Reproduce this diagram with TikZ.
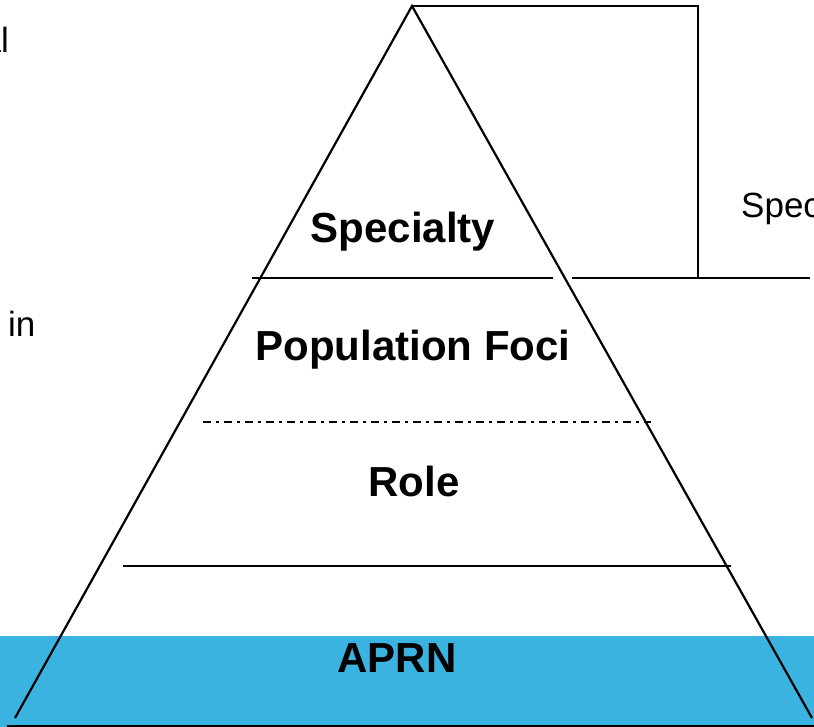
\documentclass[tikz,border=0pt]{standalone}
\usepackage{fontspec}
\setmainfont{Liberation Sans}
\definecolor{bandblue}{HTML}{3BB3E0}
\begin{document}
\begin{tikzpicture}[x=1pt,y=-1pt,
  ln/.style={draw=black,line width=2.2pt},
  dashdot/.style={draw=black,line width=2.2pt,dash pattern=on 8pt off 5pt on 3pt off 5pt},
  lbl/.style={font=\bfseries\fontsize{42}{45}\selectfont,anchor=base,inner sep=0pt},
  side/.style={font=\fontsize{35}{38}\selectfont,inner sep=0pt}]
\useasboundingbox (0,0) rectangle (814,727);
% blue band
\fill[bandblue] (0,636) rectangle (814,727);
% coordinates
\coordinate (apex) at (412,6);
\coordinate (bl) at (15,718);
\coordinate (br) at (812,718);
\coordinate (tr) at (698,6);
\coordinate (brk) at (698,278);
\coordinate (l1a) at (252,278);
\coordinate (l1b) at (553,278);
\coordinate (l2a) at (572,278);
\coordinate (l2b) at (810,278);
\coordinate (d1) at (203,422);
\coordinate (d2) at (651,422);
\coordinate (r1) at (123,566);
\coordinate (r2) at (731,566);
\coordinate (b1) at (7,726);
\coordinate (b2) at (814,726);
% triangle
\draw[ln] (bl) -- (apex) -- (br);
% bracket
\draw[ln] (apex) -- (tr) -- (brk);
% level lines
\draw[ln] (l1a) -- (l1b);
\draw[ln] (l2a) -- (l2b);
\draw[dashdot] (d1) -- (d2);
\draw[ln] (r1) -- (r2);
\draw[ln] (b1) -- (b2);
% labels
\node[lbl] (spec) at (403,243) {Specialty};
\node[lbl] (pop) at (413,360) {Population Foci};
\node[lbl] (role) at (414,496) {Role};
\node[lbl] (aprn) at (397,672) {APRN};
\node[side,anchor=base west] (specr) at (741,218) {Spec};
\node[side,anchor=base east] (al) at (9,53) {al};
\node[side,anchor=base west] (in) at (8,337) {in};
\end{tikzpicture}
\end{document}
